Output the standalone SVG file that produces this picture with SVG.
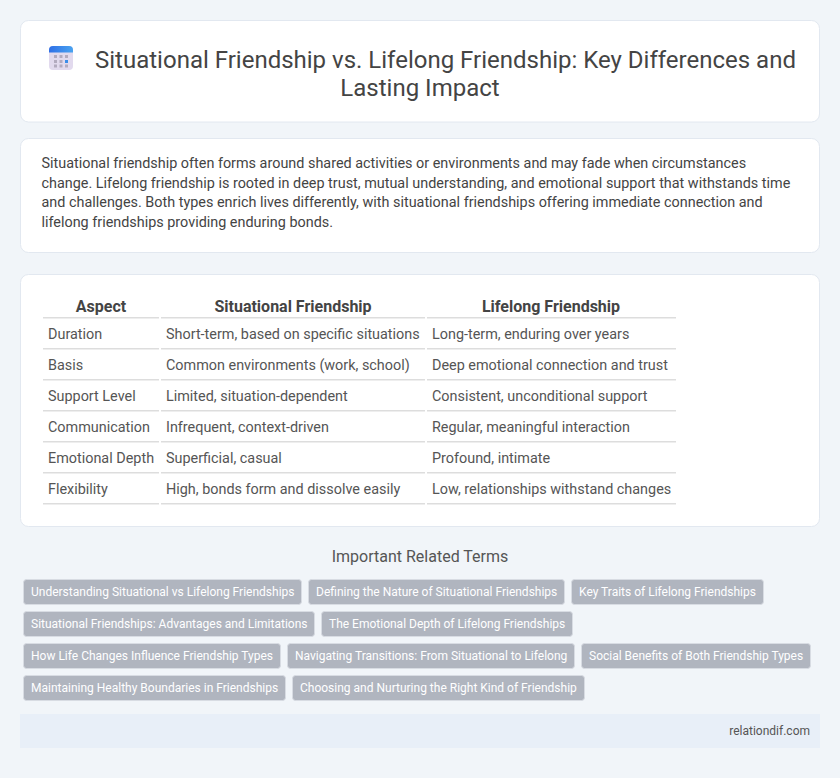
<svg xmlns="http://www.w3.org/2000/svg" width="840" height="778" viewBox="0 0 840 778" style="background:#f1f5f9">
<style>
text{font-family:Roboto,"Liberation Sans",sans-serif}
.card{fill:#fff;stroke:#e2e8f0;stroke-width:1}
.p{font-size:14.4px;fill:#444}
.h{font-size:16px;font-weight:700;fill:#444;text-anchor:middle}
.c{font-size:14.4px;fill:#555}
.r{fill:#ddd}
.tag{fill:#b0b5bf;stroke:#d8dce3;stroke-width:1}
.t{font-size:12px;fill:#fff}
</style>
<defs>
<linearGradient id="band" x1="0" y1="0" x2="1" y2="0"><stop offset="0" stop-color="#2f6fe6"/><stop offset="1" stop-color="#4aa3f0"/></linearGradient>
</defs>
<rect width="840" height="778" fill="#f1f5f9"/>
<g id="header">
<rect class="card" x="20.500" y="20.500" width="799" height="101.500" rx="8"/>
<g id="icon">
<rect x="49" y="46" width="24" height="24" rx="4" fill="#e2daee"/>
<path d="M49 52.500v-2.500a4 4 0 0 1 4-4h16a4 4 0 0 1 4 4v2.500z" fill="url(#band)"/>
<g fill="#b3abbf"><rect x="54" y="55" width="3" height="3"/><rect x="59.500" y="55" width="3" height="3"/><rect x="65" y="55" width="3" height="3"/><rect x="54" y="60" width="3" height="3"/><rect x="59.500" y="60" width="3" height="3"/><rect x="54" y="64.500" width="3" height="3"/><rect x="59.500" y="64.500" width="3" height="3"/><rect x="65" y="64.500" width="3" height="3"/></g>
<rect x="65" y="60" width="3" height="3" fill="#3b8de8"/>
</g>
<text x="445.500" y="68" font-size="24" fill="#444" text-anchor="middle">Situational Friendship vs. Lifelong Friendship: Key Differences and</text>
<text x="420" y="96" font-size="24" fill="#444" text-anchor="middle">Lasting Impact</text>
</g>
<g id="intro">
<rect class="card" x="20.500" y="138.500" width="799" height="114" rx="8"/>
<text class="p" x="41.500" y="168">Situational friendship often forms around shared activities or environments and may fade when circumstances</text>
<text class="p" x="41.500" y="188">change. Lifelong friendship is rooted in deep trust, mutual understanding, and emotional support that withstands time</text>
<text class="p" x="41.500" y="207">and challenges. Both types enrich lives differently, with situational friendships offering immediate connection and</text>
<text class="p" x="41.500" y="227">lifelong friendships providing enduring bonds.</text>
</g>
<g id="table">
<rect class="card" x="20.500" y="274.500" width="799" height="252" rx="8"/>
<text class="h" x="101" y="312">Aspect</text><text class="h" x="293" y="312">Situational Friendship</text><text class="h" x="551" y="312">Lifelong Friendship</text>
<g>
<rect class="r" x="43" y="317" width="116" height="1.500"/><rect class="r" x="161" y="317" width="264" height="1.500"/><rect class="r" x="427" y="317" width="249" height="1.500"/>
<rect class="r" x="43" y="348" width="116" height="1.500"/><rect class="r" x="161" y="348" width="264" height="1.500"/><rect class="r" x="427" y="348" width="249" height="1.500"/>
<rect class="r" x="43" y="379" width="116" height="1.500"/><rect class="r" x="161" y="379" width="264" height="1.500"/><rect class="r" x="427" y="379" width="249" height="1.500"/>
<rect class="r" x="43" y="410" width="116" height="1.500"/><rect class="r" x="161" y="410" width="264" height="1.500"/><rect class="r" x="427" y="410" width="249" height="1.500"/>
<rect class="r" x="43" y="441" width="116" height="1.500"/><rect class="r" x="161" y="441" width="264" height="1.500"/><rect class="r" x="427" y="441" width="249" height="1.500"/>
<rect class="r" x="43" y="472" width="116" height="1.500"/><rect class="r" x="161" y="472" width="264" height="1.500"/><rect class="r" x="427" y="472" width="249" height="1.500"/>
<rect class="r" x="43" y="503" width="116" height="1.500"/><rect class="r" x="161" y="503" width="264" height="1.500"/><rect class="r" x="427" y="503" width="249" height="1.500"/>
</g>
<text class="c" x="48" y="339">Duration</text><text class="c" x="166" y="339">Short-term, based on specific situations</text><text class="c" x="432" y="339">Long-term, enduring over years</text>
<text class="c" x="48" y="370">Basis</text><text class="c" x="166" y="370">Common environments (work, school)</text><text class="c" x="432" y="370">Deep emotional connection and trust</text>
<text class="c" x="48" y="401">Support Level</text><text class="c" x="166" y="401">Limited, situation-dependent</text><text class="c" x="432" y="401">Consistent, unconditional support</text>
<text class="c" x="48" y="432">Communication</text><text class="c" x="166" y="432">Infrequent, context-driven</text><text class="c" x="432" y="432">Regular, meaningful interaction</text>
<text class="c" x="48" y="463">Emotional Depth</text><text class="c" x="166" y="463">Superficial, casual</text><text class="c" x="432" y="463">Profound, intimate</text>
<text class="c" x="48" y="494">Flexibility</text><text class="c" x="166" y="494">High, bonds form and dissolve easily</text><text class="c" x="432" y="494">Low, relationships withstand changes</text>
</g>
<g id="related">
<text x="420" y="562" font-size="16" fill="#555" text-anchor="middle">Important Related Terms</text>
<rect class="tag" x="23.500" y="579.500" width="278" height="25" rx="3"/><text class="t" x="31" y="596">Understanding Situational vs Lifelong Friendships</text>
<rect class="tag" x="308.500" y="579.500" width="256" height="25" rx="3"/><text class="t" x="316" y="596">Defining the Nature of Situational Friendships</text>
<rect class="tag" x="571.500" y="579.500" width="192" height="25" rx="3"/><text class="t" x="579" y="596">Key Traits of Lifelong Friendships</text>
<rect class="tag" x="23.500" y="611.500" width="291" height="25" rx="3"/><text class="t" x="31" y="628">Situational Friendships: Advantages and Limitations</text>
<rect class="tag" x="321.500" y="611.500" width="251" height="25" rx="3"/><text class="t" x="329" y="628">The Emotional Depth of Lifelong Friendships</text>
<rect class="tag" x="23.500" y="643.500" width="257" height="25" rx="3"/><text class="t" x="31" y="660">How Life Changes Influence Friendship Types</text>
<rect class="tag" x="287.500" y="643.500" width="287" height="25" rx="3"/><text class="t" x="295" y="660">Navigating Transitions: From Situational to Lifelong</text>
<rect class="tag" x="581.500" y="643.500" width="229" height="25" rx="3"/><text class="t" x="589" y="660">Social Benefits of Both Friendship Types</text>
<rect class="tag" x="23.500" y="675.500" width="262" height="25" rx="3"/><text class="t" x="31" y="692">Maintaining Healthy Boundaries in Friendships</text>
<rect class="tag" x="292.500" y="675.500" width="292" height="25" rx="3"/><text class="t" x="300" y="692">Choosing and Nurturing the Right Kind of Friendship</text>
</g>
<g id="footer">
<rect x="20" y="714" width="800" height="34" fill="#e8eff8"/>
<text x="810" y="735" font-size="12" fill="#555" text-anchor="end">relationdif.com</text>
</g>
</svg>
